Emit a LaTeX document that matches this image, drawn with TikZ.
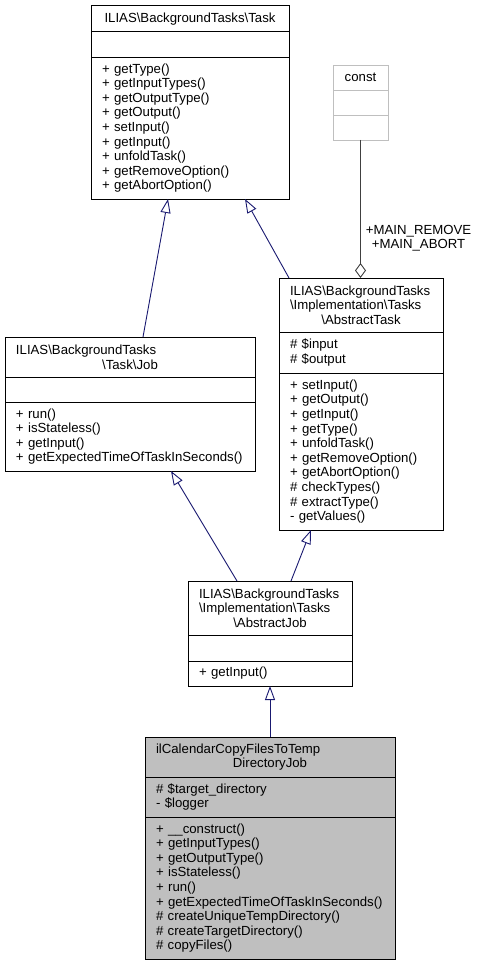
\documentclass[tikz,border=0pt]{standalone}
\usepackage{fontspec}
\setmainfont{Liberation Sans}
\usetikzlibrary{arrows.meta}
\definecolor{navyedge}{HTML}{191970}
\definecolor{boxgray}{HTML}{BFBFBF}
\definecolor{aggedge}{HTML}{404040}
\newcommand{\bsl}{\textbackslash}
\newcommand{\midline}[1]{\makebox[\hsize][c]{#1}}

\begin{document}
\begin{tikzpicture}[x=1pt,y=-1pt,
  part/.style={draw=black, line width=0.9pt, anchor=north west, outer sep=0pt,
    inner ysep=0pt, inner xsep=11pt, align=left, font=\fontsize{13.2}{14.6}\selectfont},
  ghost/.style={part, draw=boxgray},
  shade/.style={part, fill=boxgray},
  inh/.style={draw=navyedge, line width=0.9pt, -{Triangle[open, length=14pt, width=10pt]}},
  agg/.style={draw=aggedge, line width=0.9pt, -{Diamond[open, length=15pt, width=11pt]}},
  lbl/.style={anchor=west, xshift=5pt, inner sep=0pt, align=center, font=\fontsize{13.2}{14}\selectfont}]
\useasboundingbox (0,0) rectangle (478,965);
% ILIAS\BackgroundTasks\Task
\node[part, text width=176pt, minimum height=25.8pt, align=center] (tskT) at (91,5.7) {ILIAS\bsl BackgroundTasks\bsl Task};
\node[part, text width=176pt, minimum height=25.5pt] (tskA) at (tskT.south west) {};
\node[part, text width=176pt, minimum height=142pt] (tskM) at (tskA.south west) {+~getType()\\+~getInputTypes()\\+~getOutputType()\\+~getOutput()\\+~setInput()\\+~getInput()\\+~unfoldTask()\\+~getRemoveOption()\\+~getAbortOption()};
% const
\node[ghost, text width=33pt, minimum height=25pt, align=center] (cstT) at (333,65) {const};
\node[ghost, text width=33pt, minimum height=25pt] (cstA) at (cstT.south west) {};
\node[ghost, text width=33pt, minimum height=25pt] (cstM) at (cstA.south west) {};
% AbstractTask
\node[part, text width=142pt, minimum height=54pt] (atkT) at (279,278) {ILIAS\bsl BackgroundTasks\\\bsl Implementation\bsl Tasks\\\midline{\bsl AbstractTask}};
\node[part, text width=142pt, minimum height=41pt] (atkA) at (atkT.south west) {\#~\$input\\\#~\$output};
\node[part, text width=142pt, minimum height=157pt] (atkM) at (atkA.south west) {+~setInput()\\+~getOutput()\\+~getInput()\\+~getType()\\+~unfoldTask()\\+~getRemoveOption()\\+~getAbortOption()\\\#~checkTypes()\\\#~extractType()\\-~getValues()};
% Task\Job
\node[part, text width=228pt, minimum height=40pt] (jobT) at (5,337) {ILIAS\bsl BackgroundTasks\\\midline{\bsl Task\bsl Job}};
\node[part, text width=228pt, minimum height=25pt] (jobA) at (jobT.south west) {};
\node[part, text width=228pt, minimum height=69pt] (jobM) at (jobA.south west) {+~run()\\+~isStateless()\\+~getInput()\\+~getExpectedTimeOfTaskInSeconds()};
% AbstractJob
\node[part, text width=142pt, minimum height=54pt] (ajbT) at (188,581) {ILIAS\bsl BackgroundTasks\\\bsl Implementation\bsl Tasks\\\midline{\bsl AbstractJob}};
\node[part, text width=142pt, minimum height=26pt] (ajbA) at (ajbT.south west) {};
\node[part, text width=142pt, minimum height=25pt] (ajbM) at (ajbA.south west) {+~getInput()};
% ilCalendarCopyFilesToTempDirectoryJob
\node[shade, text width=228pt, minimum height=40pt] (calT) at (145,737) {ilCalendarCopyFilesToTemp\\\midline{DirectoryJob}};
\node[shade, text width=228pt, minimum height=40pt] (calA) at (calT.south west) {\#~\$target\_directory\\-~\$logger};
\node[shade, text width=228pt, minimum height=142pt] (calM) at (calA.south west) {+~\_\_construct()\\+~getInputTypes()\\+~getOutputType()\\+~isStateless()\\+~run()\\+~getExpectedTimeOfTaskInSeconds()\\\#~createUniqueTempDirectory()\\\#~createTargetDirectory()\\\#~copyFiles()};
% edges
\draw[inh] ([xshift=13pt]jobT.north) -- ([xshift=-22pt]tskM.south);
\draw[inh] ([xshift=-72pt]atkT.north) -- ([xshift=55pt]tskM.south);
\draw[inh] ([xshift=-33pt]ajbT.north) -- ([xshift=41pt]jobM.south);
\draw[inh] ([xshift=21pt]ajbT.north) -- ([xshift=-50pt]atkM.south);
\draw[inh] (calT.north) -- (ajbM.south);
\draw[agg] (cstM.south) -- node[lbl, pos=0.71] {+MAIN\_REMOVE\\+MAIN\_ABORT} (cstM.south |- atkT.north);
\end{tikzpicture}
\end{document}
